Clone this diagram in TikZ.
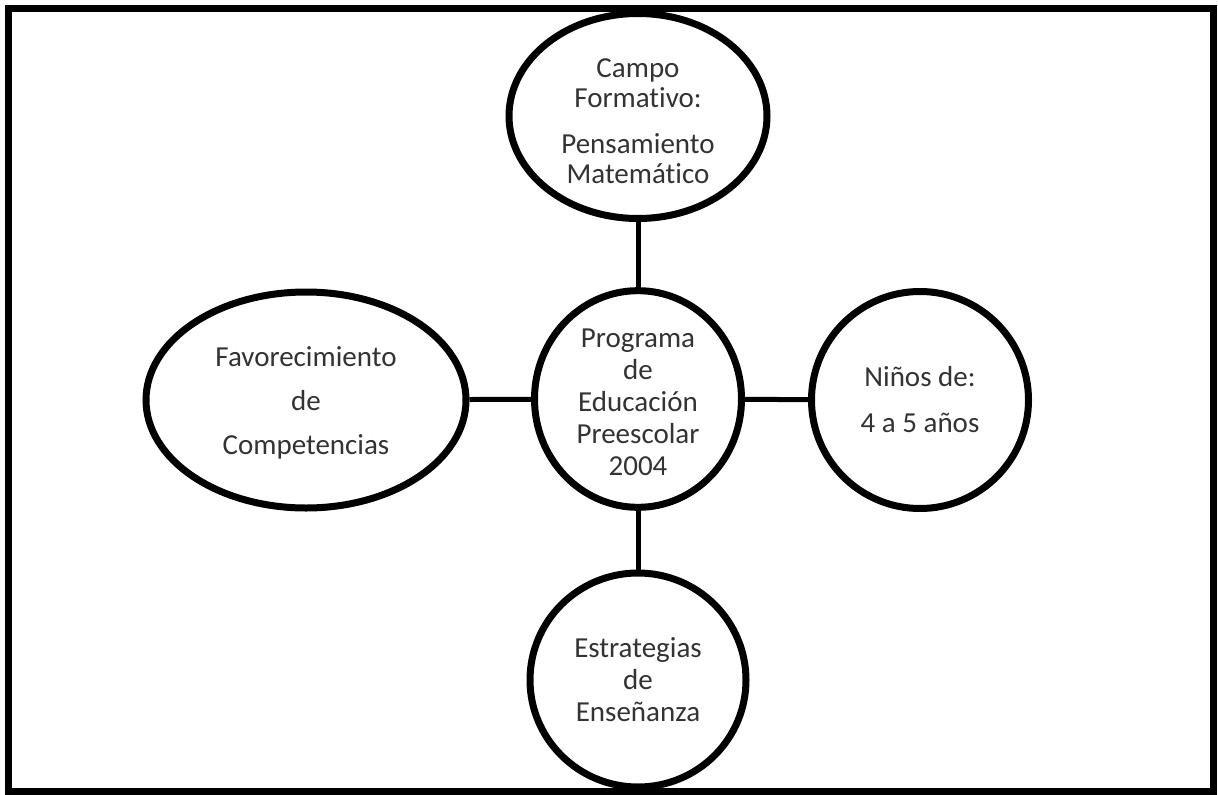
\documentclass[tikz,border=0pt]{standalone}
\usepackage{fontspec}
\setmainfont{Carlito}[Ligatures=NoCommon]
\usetikzlibrary{shapes.geometric}
\begin{document}
\begin{tikzpicture}[x=1pt,y=-1pt,
  bubble/.style={ellipse,draw=black,line width=7pt,fill=white,inner sep=0pt,
    align=center,text=black!80,font=\fontsize{29}{32}\selectfont},
  link/.style={draw=black,line width=5pt}]
\useasboundingbox (0,0) rectangle (1218,795);
\draw[line width=7pt,fill=white] (8,8) rectangle (1213,791);
\node[bubble,minimum width=207pt,minimum height=207pt] (c) at (638,399)
  {\rule{0pt}{25pt}Programa\\de\\Educación\\Preescolar\\2004};
\node[bubble,minimum width=258pt,minimum height=205pt,font=\fontsize{29}{30}\selectfont] (t) at (638,116)
  {\rule{0pt}{29pt}Campo\\Formativo:\\[16pt]Pensamiento\\Matemático};
\node[bubble,minimum width=320pt,minimum height=216pt,font=\fontsize{29}{44}\selectfont] (l) at (306,400)
  {\rule{0pt}{25pt}Favorecimiento\\de\\Competencias};
\node[bubble,minimum width=217pt,minimum height=217pt,font=\fontsize{29}{46}\selectfont] (r) at (920,400)
  {Niños de:\\4 a 5 años};
\node[bubble,minimum width=216pt,minimum height=214pt] (b) at (638,680)
  {Estrategias\\de\\Enseñanza};
\draw[link] (t) -- (c);
\draw[link] (l) -- (c);
\draw[link] (c) -- (r);
\draw[link] (c) -- (b);
\end{tikzpicture}
\end{document}
